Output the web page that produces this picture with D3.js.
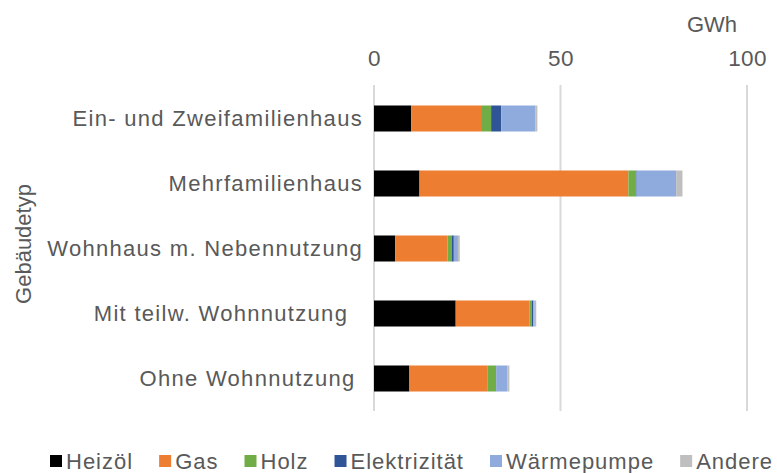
<!DOCTYPE html>
<html>
<head>
<meta charset="utf-8">
<script src="https://cdn.jsdelivr.net/npm/d3@7"></script>
<style>
  body { margin: 0; background: #fff; }
  text { font-family: "Liberation Sans", Arial, sans-serif; fill: #595959; white-space: pre; }
</style>
</head>
<body>
<div id="chart"></div>
<script>
const width = 777;
const height = 473;
const margin = { top: 86, bottom: 62, left: 374, right: 30 };

// data (GWh)
const categories = [
  "Ein- und Zweifamilienhaus",
  "Mehrfamilienhaus",
  "Wohnhaus m. Nebennutzung",
  "Mit teilw. Wohnnutzung  ",
  "Ohne Wohnnutzung ",
];
const seriesNames = ["Heizöl", "Gas", "Holz", "Elektrizität", "Wärmepumpe", "Andere"];
const heizoel = [10.0, 12.2, 5.7, 21.9, 9.5];
const gas = [18.7, 56.0, 14.0, 19.8, 21.0];
const holz = [2.7, 2.0, 1.1, 0.6, 2.2];
const elektrizitaet = [2.7, 0.2, 0.6, 0.4, 0.1];
const waermepumpe = [9.1, 10.6, 1.1, 0.4, 3.0];
const andere = [0.6, 1.7, 0.5, 0.4, 0.5];
const ticks = [0, 50, 100];
const colours = ["#000000", "#ED7D31", "#70AD47", "#2F5597", "#8FAADC", "#BFBFBF"];

const allSeries = [heizoel, gas, holz, elektrizitaet, waermepumpe, andere];
const rows = categories.map((c, i) => {
  const row = { cat: c };
  seriesNames.forEach((s, j) => (row[s] = allSeries[j][i]));
  return row;
});

const svg = d3
  .select("#chart")
  .append("svg")
  .attr("width", width)
  .attr("height", height);

// scales
const x = d3.scaleLinear().domain([0, 100]).range([margin.left, width - margin.right]);
const y = d3
  .scaleBand()
  .domain(categories)
  .range([margin.top, height - margin.bottom])
  .paddingInner(0.6)
  .paddingOuter(0.3);

// gridlines
svg
  .append("g")
  .selectAll("line")
  .data(ticks)
  .join("line")
  .attr("x1", (d) => x(d))
  .attr("x2", (d) => x(d))
  .attr("y1", margin.top - 1)
  .attr("y2", height - margin.bottom)
  .attr("stroke", "#D9D9D9")
  .attr("stroke-width", 2);

// top axis labels
const axisTop = d3.axisTop(x).tickValues(ticks).tickSize(0).tickPadding(0);
const gx = svg.append("g").attr("transform", "translate(0,66)").call(axisTop);
gx.select(".domain").remove();
gx.selectAll("text")
  .attr("dy", 0)
  .style("font-size", "22.5px")
  .style("letter-spacing", "0.4px")
  .style("fill", "#595959")
  .style("font-family", '"Liberation Sans", Arial, sans-serif');

svg
  .append("text")
  .attr("x", 737)
  .attr("y", 31.5)
  .attr("text-anchor", "end")
  .style("font-size", "22px")
  .text("GWh");

// stacked bars
const stack = d3.stack().keys(seriesNames)(rows);
svg
  .append("g")
  .selectAll("g")
  .data(stack)
  .join("g")
  .attr("fill", (d, i) => colours[i])
  .selectAll("rect")
  .data((d) => d)
  .join("rect")
  .attr("x", (d) => x(d[0]))
  .attr("y", (d) => y(d.data.cat))
  .attr("width", (d) => x(d[1]) - x(d[0]))
  .attr("height", y.bandwidth());

// category labels
svg
  .append("g")
  .selectAll("text")
  .data(categories)
  .join("text")
  .attr("x", 363)
  .attr("y", (d) => y(d) + y.bandwidth() / 2)
  .attr("dy", "0.35em")
  .attr("text-anchor", "end")
  .style("font-size", "22px")
  .style("letter-spacing", "1.3px")
  .text((d) => d);

// axis title
svg
  .append("text")
  .attr("transform", "translate(31,244) rotate(-90)")
  .attr("text-anchor", "middle")
  .style("font-size", "22px")
  .text("Gebäudetyp");

// legend
const legend = svg.append("g").attr("transform", "translate(50,0)");
let lx = 0;
seriesNames.forEach((s, i) => {
  legend
    .append("rect")
    .attr("x", lx)
    .attr("y", 455)
    .attr("width", 12)
    .attr("height", 12)
    .attr("fill", colours[i]);
  const t = legend
    .append("text")
    .attr("x", lx + 16)
    .attr("y", 469)
    .style("font-size", "22px")
    .style("letter-spacing", "1px")
    .text(s);
  lx += 16 + t.node().getComputedTextLength() + 26;
});
</script>
</body>
</html>
